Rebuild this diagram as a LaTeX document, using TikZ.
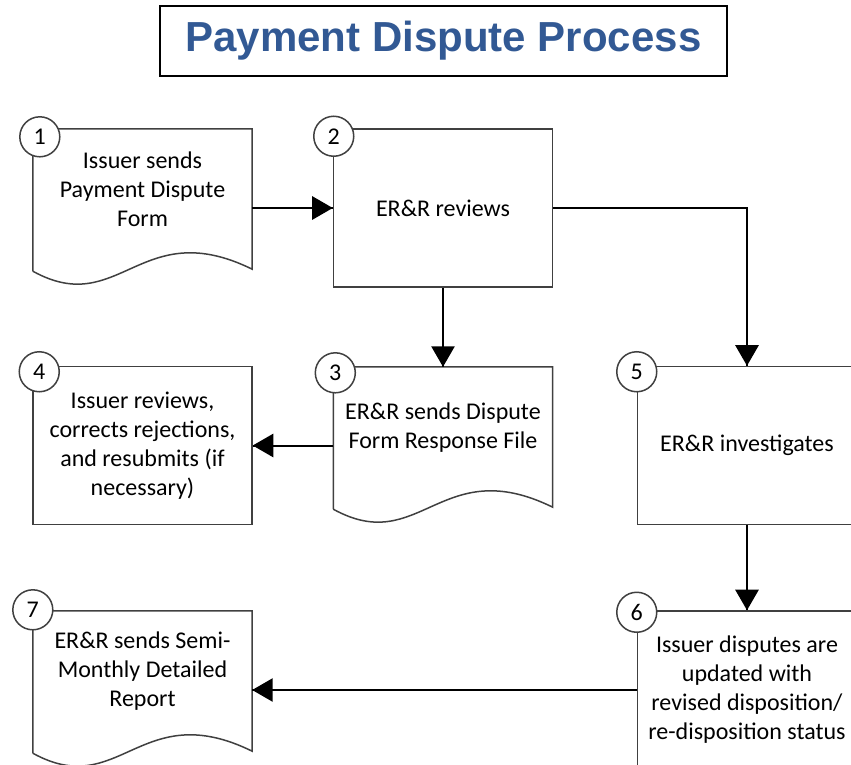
\documentclass[tikz,border=0pt]{standalone}
\usepackage{fontspec}
\setmainfont{Carlito}
\newfontfamily\titlefont{Liberation Sans}
\usetikzlibrary{arrows}
\usetikzlibrary{decorations.markings}
\definecolor{titleblue}{RGB}{50,89,148}
\definecolor{edge}{RGB}{64,64,64}
\tikzset{flow/.style = {line width = 2, decoration={markings,
                                  mark=at position 1 with {\arrow[scale=1.9]{triangle 60}}},
                      postaction={decorate}}}
\tikzset{stepbox/.style = {draw = edge, line width = 1.5, minimum width = 219, minimum height = 158,
                           align = center, inner sep = 0, font = \fontsize{24}{29}\selectfont}}
\tikzset{docbox/.style = {minimum width = 219, minimum height = 121,
                          align = center, inner sep = 0, font = \fontsize{24}{29}\selectfont}}
\tikzset{num/.style = {draw = edge, fill = white, circle, line width = 1.5, minimum size = 40,
                       inner sep = 0, font = \fontsize{24}{29}\selectfont}}
\newcommand{\docline}[1]{\draw [draw = edge, line width = 1.5] ([yshift = -21]#1.south west) -- (#1.north west) -- (#1.north east) -- ([yshift = -19]#1.south east) .. controls +(-112, -55) and +(87, 48) .. ([yshift = -21]#1.south west);}

\begin{document}
\begin{tikzpicture}[x = 1pt, y = -1pt]
      \useasboundingbox (0, 0) rectangle (851, 765);
      \node [draw, line width = 1.5, minimum width = 567, minimum height = 70, text = titleblue,
             font = \titlefont\bfseries\fontsize{42}{50}\selectfont] (title) at (443.5, 41) {Payment Dispute Process};
      \node [docbox] (send) at (142.5, 189.5) {Issuer sends\\Payment Dispute\\Form};
      \node [stepbox] (rev) at (443, 208) {ER\&R reviews};
      \node [docbox] (resp) at (443, 427.5) {ER\&R sends Dispute\\Form Response File};
      \node [stepbox] (fix) at (142.5, 445.5) {Issuer reviews,\\corrects rejections,\\and resubmits (if\\necessary)};
      \node [stepbox] (inv) at (747, 445.5) {ER\&R investigates};
      \node [stepbox] (upd) at (747, 690) {Issuer disputes are\\updated with\\revised disposition/\\re-disposition status};
      \node [docbox] (rep) at (142.5, 671.5) {ER\&R sends Semi-\\Monthly Detailed\\Report};
      \docline{send}
      \docline{resp}
      \docline{rep}
      \draw [flow] (send.east |- rev.west) -- (rev.west);
      \draw [flow] (rev.south) -- (resp.north);
      \draw [flow] (rev.east) -| (inv.north);
      \draw [flow] (resp.west |- fix.east) -- (fix.east);
      \draw [flow] (inv.south) -- (upd.north);
      \draw [flow] (upd.west) -- (rep.east |- upd.west);
      \node [num] (n1) at ([shift = {(7, 8)}]send.north west) {1};
      \node [num] (n2) at ([shift = {(1, 8)}]rev.north west) {2};
      \node [num] (n3) at ([shift = {(2, 6)}]resp.north west) {3};
      \node [num] (n4) at ([shift = {(7, 6)}]fix.north west) {4};
      \node [num] (n5) at ([shift = {(0, 6)}]inv.north west) {5};
      \node [num] (n6) at ([shift = {(0, 2)}]upd.north west) {6};
      \node [num] (n7) at ([shift = {(0, -1)}]rep.north west) {7};
    \end{tikzpicture}
\end{document}
